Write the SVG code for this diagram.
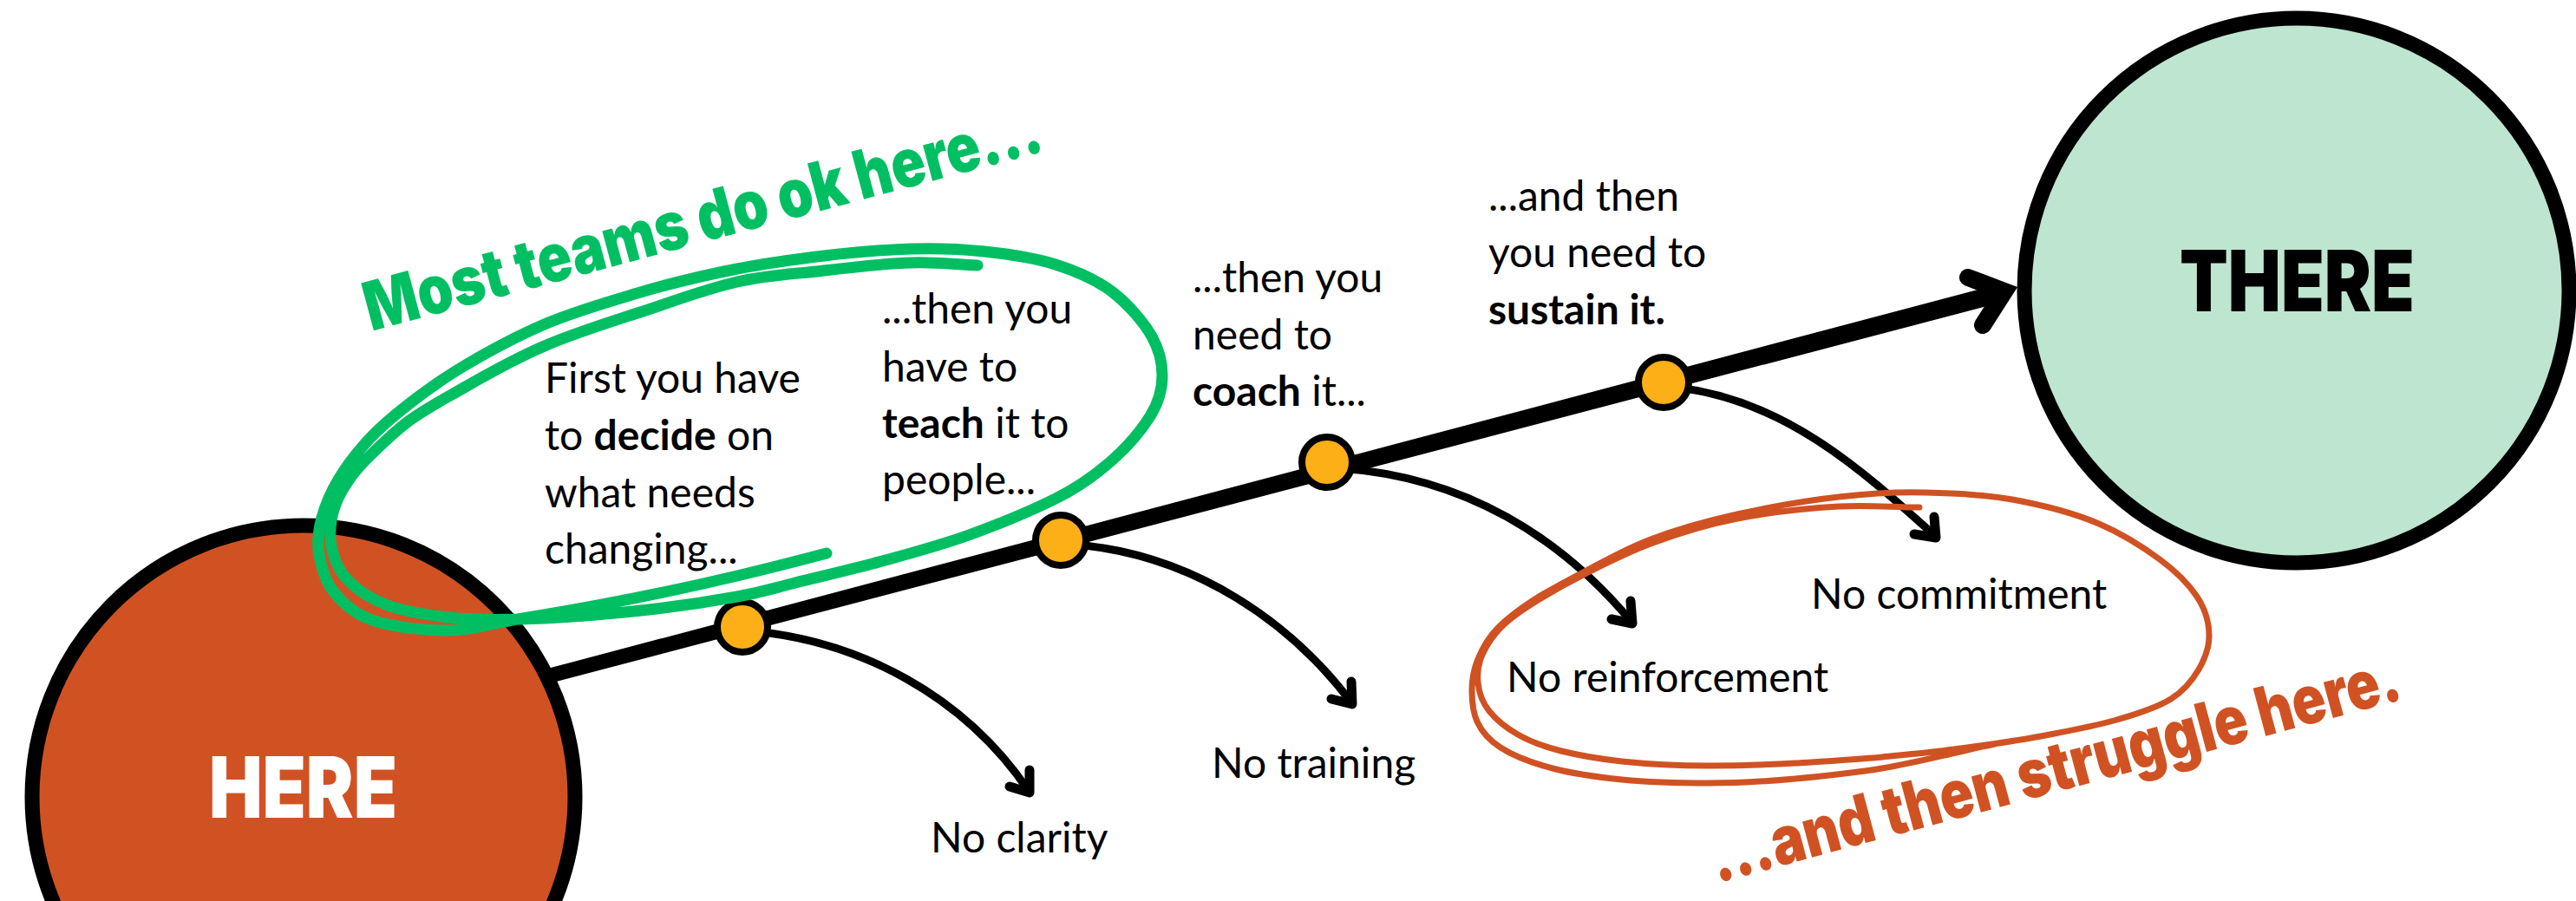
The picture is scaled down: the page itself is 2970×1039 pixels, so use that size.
<svg xmlns="http://www.w3.org/2000/svg" width="2970" height="1039" viewBox="0 0 2970 1039">
  <defs>
    <style>
      .t{font-family:Lato,"Liberation Sans",sans-serif;font-size:48px;fill:#000}
      .b{font-weight:700}
      .big{font-family:Inter,Lato,"Liberation Sans",sans-serif;font-weight:900;font-size:98px}
      .note{font-family:Inter,Lato,"Liberation Sans",sans-serif;font-weight:900;font-size:78px}
      .branch{fill:none;stroke:#000;stroke-width:9;stroke-linecap:round}
      .head{fill:none;stroke:#000;stroke-width:11;stroke-linecap:round;stroke-linejoin:round}
      .node{fill:#FDAF17;stroke:#000;stroke-width:8}
      .ring{stroke:#000;stroke-width:17}
      .scribble{fill:none;stroke-linecap:round;stroke-linejoin:round}
    </style>
  </defs>
  <rect width="2970" height="1039" fill="#fff"/>

  <!-- main path from HERE to THERE -->
  <g id="connectors">
    <polygon points="617.8,774.6 2307.3,326.9 2312.7,347.2 622.2,791" fill="#000"/>
    <path d="M2269,320 L2311,336 L2286,375" fill="none" stroke="#000" stroke-width="20" stroke-linecap="round" stroke-linejoin="miter"/>
    <!-- failure branches -->
    <path class="branch" d="M870,728 C990,740 1110,800 1186,912"/>
    <path class="head" d="M1164,907 L1187,914 L1187,888"/>
    <path class="branch" d="M1240,628 C1380,640 1490,720 1558,810"/>
    <path class="head" d="M1535,806 L1559,812 L1558,786"/>
    <path class="branch" d="M1545,540 C1690,550 1800,620 1881,717"/>
    <path class="head" d="M1858,714 L1882,719 L1880,693"/>
    <path class="branch" d="M1935,447 C2060,462 2150,545 2231,618"/>
    <path class="head" d="M2207,616 L2232,620 L2230,596"/>
  </g>

  <g id="here">
    <circle class="ring" cx="350" cy="919" r="313" fill="#D05223"/>
    <text class="big" x="241" y="943" fill="#fff" textLength="217" lengthAdjust="spacingAndGlyphs">HERE</text>
  </g>

  <g id="there">
    <circle class="ring" cx="2648" cy="335" r="314" fill="#BEE5D0"/>
    <text class="big" x="2513" y="359" fill="#000" textLength="271" lengthAdjust="spacingAndGlyphs">THERE</text>
  </g>

  <g id="step-decide">
    <circle class="node" cx="856" cy="723" r="29"/>
    <text class="t" x="628" y="453">First you have</text>
    <text class="t" x="628" y="519">to <tspan class="b">decide</tspan> on</text>
    <text class="t" x="628" y="585">what needs</text>
    <text class="t" x="628" y="650">changing...</text>
    <text class="t" x="1073" y="983">No clarity</text>
  </g>

  <g id="step-teach">
    <circle class="node" cx="1223" cy="623" r="29"/>
    <text class="t" x="1017" y="373">...then you</text>
    <text class="t" x="1017" y="440">have to</text>
    <text class="t" x="1017" y="505"><tspan class="b">teach</tspan> it to</text>
    <text class="t" x="1017" y="570">people...</text>
    <text class="t" x="1397" y="897">No training</text>
  </g>

  <g id="step-coach">
    <circle class="node" cx="1530" cy="533" r="29"/>
    <text class="t" x="1375" y="337">...then you</text>
    <text class="t" x="1375" y="403">need to</text>
    <text class="t" x="1375" y="468"><tspan class="b">coach</tspan> it...</text>
    <text class="t" x="1737" y="798">No reinforcement</text>
  </g>

  <g id="step-sustain">
    <circle class="node" cx="1918" cy="441" r="29"/>
    <text class="t" x="1716" y="243">...and then</text>
    <text class="t" x="1716" y="308">you need to</text>
    <text class="t" x="1716" y="374"><tspan class="b">sustain it.</tspan></text>
    <text class="t" x="2088" y="702">No commitment</text>
  </g>

  <!-- hand-drawn highlight around the first two steps -->
  <g id="ok-zone">
    <path class="scribble" stroke="#00BF63" stroke-width="13" d="M953,638 C919,647 892,654 850,664 S742,688 700,696 S628,709 597,714 S543,727 515,727 S454,723 432,716 S397,697 386,684 S371,655 368,640 S367,612 371,597 S381,568 390,553 S412,521 425,507 S452,481 470,467 S508,438 535,422 S597,387 630,373 S698,349 735,338 S814,317 850,310 S917,299 950,295 S1019,288 1050,287 S1107,287 1135,290 S1192,297 1217,305 S1265,323 1283,337 S1319,372 1328,388 S1340,418 1340,433 S1336,464 1326,480 S1301,514 1283,530 S1245,561 1217,575 S1150,605 1117,617 S1050,638 1017,647 S945,665 917,672 S883,682 850,688 S762,702 720,706 S634,713 600,714 S543,715 517,712 S466,705 447,698 S413,681 402,670 S386,647 383,635 S380,612 382,600 S388,577 395,565 S409,543 422,530 S453,499 472,485 S509,462 535,447 S597,412 630,398 S698,373 735,361 S814,333 850,325 S917,316 950,312 S1020,304 1050,303 S1101,305 1127,306"/>
    <text class="note" fill="#00BF63" transform="translate(428,382) rotate(-15)" textLength="805" lengthAdjust="spacingAndGlyphs">Most teams do ok here...</text>
  </g>

  <!-- hand-drawn highlight around the last two steps -->
  <g id="struggle-zone">
    <path class="scribble" stroke="#D05223" stroke-width="7" d="M2213,585 C2182,585 2155,582 2120,584 S2039,591 2003,598 S1932,616 1903,627 S1849,651 1827,662 S1786,684 1770,694 S1741,713 1731,723 S1714,744 1709,755 S1703,776 1704,787 S1709,810 1717,820 S1736,839 1750,847 S1780,861 1800,866 S1842,875 1870,878 S1937,883 1970,883 S2037,882 2070,880 S2140,876 2170,873 S2223,868 2253,864 S2322,855 2353,849 S2412,838 2437,831 S2487,816 2503,806 S2528,784 2535,772 S2547,747 2547,733 S2543,703 2533,688 S2509,659 2490,645 S2448,616 2420,604 S2353,582 2320,576 S2253,569 2220,568 S2156,569 2120,573 S2039,585 2003,593 S1932,611 1903,622 S1850,647 1827,659 S1785,681 1768,692 S1738,713 1727,724 S1709,748 1704,760 S1697,784 1697,796 S1698,821 1703,832 S1716,853 1730,862 S1767,880 1790,886 S1840,896 1870,899 S1937,903 1970,903 S2037,901 2070,898 S2139,891 2170,886 S2233,873 2255,868 S2285,861 2300,858"/>
    <text class="note" fill="#D05223" transform="translate(1980,1018) rotate(-15)" textLength="820" lengthAdjust="spacingAndGlyphs">...and then struggle here.</text>
  </g>
</svg>
